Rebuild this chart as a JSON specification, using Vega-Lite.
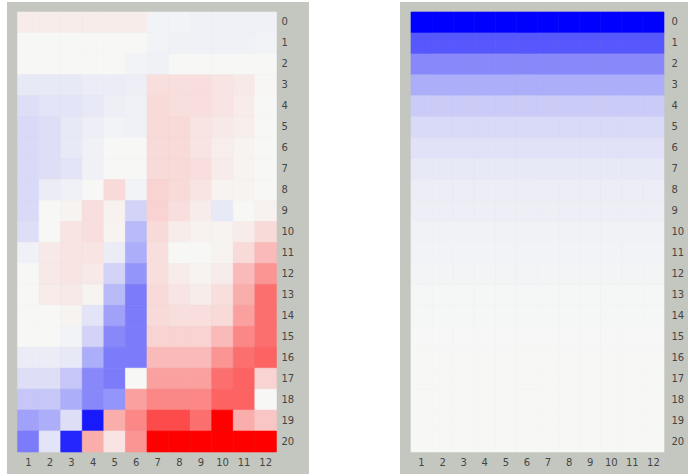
{
  "$schema": "https://vega.github.io/schema/vega-lite/v6.json",
  "padding": {"left": 7, "top": 2, "right": 0, "bottom": 0},
  "background": "#ffffff",
  "spacing": 91,
  "config": {
    "view": {"fill": "#c4c7c0", "stroke": null},
    "axis": {"domain": false, "ticks": false, "tickSize": 0, "title": null, "labelFont": "DejaVu Sans", "labelFontSize": 10, "labelColor": "#454545", "labelAngle": 0, "grid": false}
  },
  "datasets": {
    "left": [
{"r":0,"c":1,"v":0.05},{"r":0,"c":2,"v":0.05},{"r":0,"c":3,"v":0.05},{"r":0,"c":4,"v":0.05},{"r":0,"c":5,"v":0.05},{"r":0,"c":6,"v":0.05},{"r":0,"c":7,"v":-0.02},{"r":0,"c":8,"v":-0.02},{"r":0,"c":9,"v":-0.03},{"r":0,"c":10,"v":-0.03},{"r":0,"c":11,"v":-0.03},{"r":0,"c":12,"v":-0.03},
{"r":1,"c":1,"v":0},{"r":1,"c":2,"v":0},{"r":1,"c":3,"v":0},{"r":1,"c":4,"v":0},{"r":1,"c":5,"v":0},{"r":1,"c":6,"v":0},{"r":1,"c":7,"v":-0.02},{"r":1,"c":8,"v":-0.03},{"r":1,"c":9,"v":-0.03},{"r":1,"c":10,"v":-0.03},{"r":1,"c":11,"v":-0.03},{"r":1,"c":12,"v":-0.02},
{"r":2,"c":1,"v":0},{"r":2,"c":2,"v":0},{"r":2,"c":3,"v":0},{"r":2,"c":4,"v":0},{"r":2,"c":5,"v":0},{"r":2,"c":6,"v":-0.02},{"r":2,"c":7,"v":-0.03},{"r":2,"c":8,"v":0},{"r":2,"c":9,"v":0},{"r":2,"c":10,"v":0},{"r":2,"c":11,"v":0},{"r":2,"c":12,"v":0},
{"r":3,"c":1,"v":-0.06},{"r":3,"c":2,"v":-0.06},{"r":3,"c":3,"v":-0.06},{"r":3,"c":4,"v":-0.05},{"r":3,"c":5,"v":-0.05},{"r":3,"c":6,"v":-0.04},{"r":3,"c":7,"v":0.1},{"r":3,"c":8,"v":0.1},{"r":3,"c":9,"v":0.1},{"r":3,"c":10,"v":0.08},{"r":3,"c":11,"v":0.06},{"r":3,"c":12,"v":0.01},
{"r":4,"c":1,"v":-0.1},{"r":4,"c":2,"v":-0.08},{"r":4,"c":3,"v":-0.08},{"r":4,"c":4,"v":-0.06},{"r":4,"c":5,"v":-0.04},{"r":4,"c":6,"v":-0.03},{"r":4,"c":7,"v":0.12},{"r":4,"c":8,"v":0.1},{"r":4,"c":9,"v":0.1},{"r":4,"c":10,"v":0.08},{"r":4,"c":11,"v":0.05},{"r":4,"c":12,"v":0},
{"r":5,"c":1,"v":-0.12},{"r":5,"c":2,"v":-0.1},{"r":5,"c":3,"v":-0.06},{"r":5,"c":4,"v":-0.04},{"r":5,"c":5,"v":-0.02},{"r":5,"c":6,"v":-0.03},{"r":5,"c":7,"v":0.12},{"r":5,"c":8,"v":0.12},{"r":5,"c":9,"v":0.08},{"r":5,"c":10,"v":0.06},{"r":5,"c":11,"v":0.04},{"r":5,"c":12,"v":0},
{"r":6,"c":1,"v":-0.12},{"r":6,"c":2,"v":-0.1},{"r":6,"c":3,"v":-0.06},{"r":6,"c":4,"v":-0.03},{"r":6,"c":5,"v":0},{"r":6,"c":6,"v":0},{"r":6,"c":7,"v":0.12},{"r":6,"c":8,"v":0.12},{"r":6,"c":9,"v":0.08},{"r":6,"c":10,"v":0.04},{"r":6,"c":11,"v":0.02},{"r":6,"c":12,"v":0},
{"r":7,"c":1,"v":-0.12},{"r":7,"c":2,"v":-0.1},{"r":7,"c":3,"v":-0.08},{"r":7,"c":4,"v":-0.03},{"r":7,"c":5,"v":0},{"r":7,"c":6,"v":0},{"r":7,"c":7,"v":0.12},{"r":7,"c":8,"v":0.12},{"r":7,"c":9,"v":0.1},{"r":7,"c":10,"v":0.05},{"r":7,"c":11,"v":0.02},{"r":7,"c":12,"v":0},
{"r":8,"c":1,"v":-0.12},{"r":8,"c":2,"v":-0.05},{"r":8,"c":3,"v":-0.03},{"r":8,"c":4,"v":0},{"r":8,"c":5,"v":0.12},{"r":8,"c":6,"v":-0.02},{"r":8,"c":7,"v":0.15},{"r":8,"c":8,"v":0.12},{"r":8,"c":9,"v":0.08},{"r":8,"c":10,"v":0.02},{"r":8,"c":11,"v":0.02},{"r":8,"c":12,"v":0},
{"r":9,"c":1,"v":-0.12},{"r":9,"c":2,"v":0},{"r":9,"c":3,"v":0.02},{"r":9,"c":4,"v":0.1},{"r":9,"c":5,"v":0.03},{"r":9,"c":6,"v":-0.15},{"r":9,"c":7,"v":0.15},{"r":9,"c":8,"v":0.1},{"r":9,"c":9,"v":0.05},{"r":9,"c":10,"v":-0.06},{"r":9,"c":11,"v":0},{"r":9,"c":12,"v":0.03},
{"r":10,"c":1,"v":-0.1},{"r":10,"c":2,"v":0},{"r":10,"c":3,"v":0.08},{"r":10,"c":4,"v":0.1},{"r":10,"c":5,"v":0.02},{"r":10,"c":6,"v":-0.25},{"r":10,"c":7,"v":0.12},{"r":10,"c":8,"v":0.05},{"r":10,"c":9,"v":0.03},{"r":10,"c":10,"v":0.02},{"r":10,"c":11,"v":0.05},{"r":10,"c":12,"v":0.12},
{"r":11,"c":1,"v":-0.03},{"r":11,"c":2,"v":0.06},{"r":11,"c":3,"v":0.08},{"r":11,"c":4,"v":0.08},{"r":11,"c":5,"v":-0.05},{"r":11,"c":6,"v":-0.3},{"r":11,"c":7,"v":0.1},{"r":11,"c":8,"v":0},{"r":11,"c":9,"v":0},{"r":11,"c":10,"v":0.02},{"r":11,"c":11,"v":0.12},{"r":11,"c":12,"v":0.25},
{"r":12,"c":1,"v":0},{"r":12,"c":2,"v":0.06},{"r":12,"c":3,"v":0.08},{"r":12,"c":4,"v":0.06},{"r":12,"c":5,"v":-0.15},{"r":12,"c":6,"v":-0.4},{"r":12,"c":7,"v":0.1},{"r":12,"c":8,"v":0.05},{"r":12,"c":9,"v":0.02},{"r":12,"c":10,"v":0.05},{"r":12,"c":11,"v":0.25},{"r":12,"c":12,"v":0.4},
{"r":13,"c":1,"v":0},{"r":13,"c":2,"v":0.05},{"r":13,"c":3,"v":0.06},{"r":13,"c":4,"v":0.02},{"r":13,"c":5,"v":-0.25},{"r":13,"c":6,"v":-0.5},{"r":13,"c":7,"v":0.12},{"r":13,"c":8,"v":0.08},{"r":13,"c":9,"v":0.05},{"r":13,"c":10,"v":0.1},{"r":13,"c":11,"v":0.3},{"r":13,"c":12,"v":0.55},
{"r":14,"c":1,"v":0},{"r":14,"c":2,"v":0},{"r":14,"c":3,"v":0.02},{"r":14,"c":4,"v":-0.08},{"r":14,"c":5,"v":-0.35},{"r":14,"c":6,"v":-0.5},{"r":14,"c":7,"v":0.12},{"r":14,"c":8,"v":0.1},{"r":14,"c":9,"v":0.1},{"r":14,"c":10,"v":0.12},{"r":14,"c":11,"v":0.35},{"r":14,"c":12,"v":0.55},
{"r":15,"c":1,"v":0},{"r":15,"c":2,"v":0},{"r":15,"c":3,"v":-0.02},{"r":15,"c":4,"v":-0.15},{"r":15,"c":5,"v":-0.45},{"r":15,"c":6,"v":-0.5},{"r":15,"c":7,"v":0.15},{"r":15,"c":8,"v":0.15},{"r":15,"c":9,"v":0.15},{"r":15,"c":10,"v":0.25},{"r":15,"c":11,"v":0.45},{"r":15,"c":12,"v":0.55},
{"r":16,"c":1,"v":-0.05},{"r":16,"c":2,"v":-0.05},{"r":16,"c":3,"v":-0.06},{"r":16,"c":4,"v":-0.3},{"r":16,"c":5,"v":-0.5},{"r":16,"c":6,"v":-0.5},{"r":16,"c":7,"v":0.25},{"r":16,"c":8,"v":0.25},{"r":16,"c":9,"v":0.25},{"r":16,"c":10,"v":0.4},{"r":16,"c":11,"v":0.55},{"r":16,"c":12,"v":0.6},
{"r":17,"c":1,"v":-0.1},{"r":17,"c":2,"v":-0.1},{"r":17,"c":3,"v":-0.2},{"r":17,"c":4,"v":-0.45},{"r":17,"c":5,"v":-0.5},{"r":17,"c":6,"v":0},{"r":17,"c":7,"v":0.35},{"r":17,"c":8,"v":0.35},{"r":17,"c":9,"v":0.35},{"r":17,"c":10,"v":0.55},{"r":17,"c":11,"v":0.6},{"r":17,"c":12,"v":0.15},
{"r":18,"c":1,"v":-0.2},{"r":18,"c":2,"v":-0.2},{"r":18,"c":3,"v":-0.3},{"r":18,"c":4,"v":-0.45},{"r":18,"c":5,"v":-0.4},{"r":18,"c":6,"v":0.35},{"r":18,"c":7,"v":0.45},{"r":18,"c":8,"v":0.45},{"r":18,"c":9,"v":0.45},{"r":18,"c":10,"v":0.6},{"r":18,"c":11,"v":0.6},{"r":18,"c":12,"v":0},
{"r":19,"c":1,"v":-0.35},{"r":19,"c":2,"v":-0.3},{"r":19,"c":3,"v":-0.1},{"r":19,"c":4,"v":-0.9},{"r":19,"c":5,"v":0.3},{"r":19,"c":6,"v":0.45},{"r":19,"c":7,"v":0.7},{"r":19,"c":8,"v":0.7},{"r":19,"c":9,"v":0.55},{"r":19,"c":10,"v":1},{"r":19,"c":11,"v":0.3},{"r":19,"c":12,"v":0.2},
{"r":20,"c":1,"v":-0.5},{"r":20,"c":2,"v":-0.08},{"r":20,"c":3,"v":-0.85},{"r":20,"c":4,"v":0.3},{"r":20,"c":5,"v":0.08},{"r":20,"c":6,"v":0.4},{"r":20,"c":7,"v":1},{"r":20,"c":8,"v":1},{"r":20,"c":9,"v":1},{"r":20,"c":10,"v":1},{"r":20,"c":11,"v":1},{"r":20,"c":12,"v":1}
    ],
    "right": [
{"r":0,"c":1,"v":-1},{"r":0,"c":2,"v":-1},{"r":0,"c":3,"v":-1},{"r":0,"c":4,"v":-1},{"r":0,"c":5,"v":-1},{"r":0,"c":6,"v":-1},{"r":0,"c":7,"v":-1},{"r":0,"c":8,"v":-1},{"r":0,"c":9,"v":-1},{"r":0,"c":10,"v":-1},{"r":0,"c":11,"v":-1},{"r":0,"c":12,"v":-1},
{"r":1,"c":1,"v":-0.65},{"r":1,"c":2,"v":-0.65},{"r":1,"c":3,"v":-0.65},{"r":1,"c":4,"v":-0.65},{"r":1,"c":5,"v":-0.65},{"r":1,"c":6,"v":-0.65},{"r":1,"c":7,"v":-0.65},{"r":1,"c":8,"v":-0.65},{"r":1,"c":9,"v":-0.65},{"r":1,"c":10,"v":-0.65},{"r":1,"c":11,"v":-0.65},{"r":1,"c":12,"v":-0.65},
{"r":2,"c":1,"v":-0.45},{"r":2,"c":2,"v":-0.45},{"r":2,"c":3,"v":-0.45},{"r":2,"c":4,"v":-0.45},{"r":2,"c":5,"v":-0.45},{"r":2,"c":6,"v":-0.45},{"r":2,"c":7,"v":-0.45},{"r":2,"c":8,"v":-0.45},{"r":2,"c":9,"v":-0.45},{"r":2,"c":10,"v":-0.45},{"r":2,"c":11,"v":-0.45},{"r":2,"c":12,"v":-0.45},
{"r":3,"c":1,"v":-0.3},{"r":3,"c":2,"v":-0.3},{"r":3,"c":3,"v":-0.3},{"r":3,"c":4,"v":-0.3},{"r":3,"c":5,"v":-0.3},{"r":3,"c":6,"v":-0.3},{"r":3,"c":7,"v":-0.3},{"r":3,"c":8,"v":-0.3},{"r":3,"c":9,"v":-0.3},{"r":3,"c":10,"v":-0.3},{"r":3,"c":11,"v":-0.3},{"r":3,"c":12,"v":-0.3},
{"r":4,"c":1,"v":-0.18},{"r":4,"c":2,"v":-0.18},{"r":4,"c":3,"v":-0.18},{"r":4,"c":4,"v":-0.18},{"r":4,"c":5,"v":-0.18},{"r":4,"c":6,"v":-0.18},{"r":4,"c":7,"v":-0.18},{"r":4,"c":8,"v":-0.18},{"r":4,"c":9,"v":-0.18},{"r":4,"c":10,"v":-0.18},{"r":4,"c":11,"v":-0.18},{"r":4,"c":12,"v":-0.18},
{"r":5,"c":1,"v":-0.12},{"r":5,"c":2,"v":-0.12},{"r":5,"c":3,"v":-0.12},{"r":5,"c":4,"v":-0.12},{"r":5,"c":5,"v":-0.12},{"r":5,"c":6,"v":-0.12},{"r":5,"c":7,"v":-0.12},{"r":5,"c":8,"v":-0.12},{"r":5,"c":9,"v":-0.12},{"r":5,"c":10,"v":-0.12},{"r":5,"c":11,"v":-0.12},{"r":5,"c":12,"v":-0.12},
{"r":6,"c":1,"v":-0.09},{"r":6,"c":2,"v":-0.09},{"r":6,"c":3,"v":-0.09},{"r":6,"c":4,"v":-0.09},{"r":6,"c":5,"v":-0.09},{"r":6,"c":6,"v":-0.09},{"r":6,"c":7,"v":-0.09},{"r":6,"c":8,"v":-0.09},{"r":6,"c":9,"v":-0.09},{"r":6,"c":10,"v":-0.09},{"r":6,"c":11,"v":-0.09},{"r":6,"c":12,"v":-0.09},
{"r":7,"c":1,"v":-0.06},{"r":7,"c":2,"v":-0.06},{"r":7,"c":3,"v":-0.06},{"r":7,"c":4,"v":-0.06},{"r":7,"c":5,"v":-0.06},{"r":7,"c":6,"v":-0.06},{"r":7,"c":7,"v":-0.06},{"r":7,"c":8,"v":-0.06},{"r":7,"c":9,"v":-0.06},{"r":7,"c":10,"v":-0.06},{"r":7,"c":11,"v":-0.06},{"r":7,"c":12,"v":-0.06},
{"r":8,"c":1,"v":-0.045},{"r":8,"c":2,"v":-0.045},{"r":8,"c":3,"v":-0.045},{"r":8,"c":4,"v":-0.045},{"r":8,"c":5,"v":-0.045},{"r":8,"c":6,"v":-0.045},{"r":8,"c":7,"v":-0.045},{"r":8,"c":8,"v":-0.045},{"r":8,"c":9,"v":-0.045},{"r":8,"c":10,"v":-0.045},{"r":8,"c":11,"v":-0.045},{"r":8,"c":12,"v":-0.045},
{"r":9,"c":1,"v":-0.035},{"r":9,"c":2,"v":-0.035},{"r":9,"c":3,"v":-0.035},{"r":9,"c":4,"v":-0.035},{"r":9,"c":5,"v":-0.035},{"r":9,"c":6,"v":-0.035},{"r":9,"c":7,"v":-0.035},{"r":9,"c":8,"v":-0.035},{"r":9,"c":9,"v":-0.035},{"r":9,"c":10,"v":-0.035},{"r":9,"c":11,"v":-0.035},{"r":9,"c":12,"v":-0.035},
{"r":10,"c":1,"v":-0.025},{"r":10,"c":2,"v":-0.025},{"r":10,"c":3,"v":-0.025},{"r":10,"c":4,"v":-0.025},{"r":10,"c":5,"v":-0.025},{"r":10,"c":6,"v":-0.025},{"r":10,"c":7,"v":-0.025},{"r":10,"c":8,"v":-0.025},{"r":10,"c":9,"v":-0.025},{"r":10,"c":10,"v":-0.025},{"r":10,"c":11,"v":-0.025},{"r":10,"c":12,"v":-0.025},
{"r":11,"c":1,"v":-0.02},{"r":11,"c":2,"v":-0.02},{"r":11,"c":3,"v":-0.02},{"r":11,"c":4,"v":-0.02},{"r":11,"c":5,"v":-0.02},{"r":11,"c":6,"v":-0.02},{"r":11,"c":7,"v":-0.02},{"r":11,"c":8,"v":-0.02},{"r":11,"c":9,"v":-0.02},{"r":11,"c":10,"v":-0.02},{"r":11,"c":11,"v":-0.02},{"r":11,"c":12,"v":-0.02},
{"r":12,"c":1,"v":-0.015},{"r":12,"c":2,"v":-0.015},{"r":12,"c":3,"v":-0.015},{"r":12,"c":4,"v":-0.015},{"r":12,"c":5,"v":-0.015},{"r":12,"c":6,"v":-0.015},{"r":12,"c":7,"v":-0.015},{"r":12,"c":8,"v":-0.015},{"r":12,"c":9,"v":-0.015},{"r":12,"c":10,"v":-0.015},{"r":12,"c":11,"v":-0.015},{"r":12,"c":12,"v":-0.015},
{"r":13,"c":1,"v":-0.01},{"r":13,"c":2,"v":-0.01},{"r":13,"c":3,"v":-0.01},{"r":13,"c":4,"v":-0.01},{"r":13,"c":5,"v":-0.01},{"r":13,"c":6,"v":-0.01},{"r":13,"c":7,"v":-0.01},{"r":13,"c":8,"v":-0.01},{"r":13,"c":9,"v":-0.01},{"r":13,"c":10,"v":-0.01},{"r":13,"c":11,"v":-0.01},{"r":13,"c":12,"v":-0.01},
{"r":14,"c":1,"v":-0.01},{"r":14,"c":2,"v":-0.01},{"r":14,"c":3,"v":-0.01},{"r":14,"c":4,"v":-0.01},{"r":14,"c":5,"v":-0.01},{"r":14,"c":6,"v":-0.01},{"r":14,"c":7,"v":-0.01},{"r":14,"c":8,"v":-0.01},{"r":14,"c":9,"v":-0.01},{"r":14,"c":10,"v":-0.01},{"r":14,"c":11,"v":-0.01},{"r":14,"c":12,"v":-0.01},
{"r":15,"c":1,"v":-0.005},{"r":15,"c":2,"v":-0.005},{"r":15,"c":3,"v":-0.005},{"r":15,"c":4,"v":-0.005},{"r":15,"c":5,"v":-0.005},{"r":15,"c":6,"v":-0.005},{"r":15,"c":7,"v":-0.005},{"r":15,"c":8,"v":-0.005},{"r":15,"c":9,"v":-0.005},{"r":15,"c":10,"v":-0.005},{"r":15,"c":11,"v":-0.005},{"r":15,"c":12,"v":-0.005},
{"r":16,"c":1,"v":0},{"r":16,"c":2,"v":0},{"r":16,"c":3,"v":0},{"r":16,"c":4,"v":0},{"r":16,"c":5,"v":0},{"r":16,"c":6,"v":0},{"r":16,"c":7,"v":0},{"r":16,"c":8,"v":0},{"r":16,"c":9,"v":0},{"r":16,"c":10,"v":0},{"r":16,"c":11,"v":0},{"r":16,"c":12,"v":0},
{"r":17,"c":1,"v":0},{"r":17,"c":2,"v":0},{"r":17,"c":3,"v":0},{"r":17,"c":4,"v":0},{"r":17,"c":5,"v":0},{"r":17,"c":6,"v":0},{"r":17,"c":7,"v":0},{"r":17,"c":8,"v":0},{"r":17,"c":9,"v":0},{"r":17,"c":10,"v":0},{"r":17,"c":11,"v":0},{"r":17,"c":12,"v":0},
{"r":18,"c":1,"v":0},{"r":18,"c":2,"v":0},{"r":18,"c":3,"v":0},{"r":18,"c":4,"v":0},{"r":18,"c":5,"v":0},{"r":18,"c":6,"v":0},{"r":18,"c":7,"v":0},{"r":18,"c":8,"v":0},{"r":18,"c":9,"v":0},{"r":18,"c":10,"v":0},{"r":18,"c":11,"v":0},{"r":18,"c":12,"v":0},
{"r":19,"c":1,"v":0},{"r":19,"c":2,"v":0},{"r":19,"c":3,"v":0},{"r":19,"c":4,"v":0},{"r":19,"c":5,"v":0},{"r":19,"c":6,"v":0},{"r":19,"c":7,"v":0},{"r":19,"c":8,"v":0},{"r":19,"c":9,"v":0},{"r":19,"c":10,"v":0},{"r":19,"c":11,"v":0},{"r":19,"c":12,"v":0},
{"r":20,"c":1,"v":0},{"r":20,"c":2,"v":0},{"r":20,"c":3,"v":0},{"r":20,"c":4,"v":0},{"r":20,"c":5,"v":0},{"r":20,"c":6,"v":0},{"r":20,"c":7,"v":0},{"r":20,"c":8,"v":0},{"r":20,"c":9,"v":0},{"r":20,"c":10,"v":0},{"r":20,"c":11,"v":0},{"r":20,"c":12,"v":0}
    ]
  },
  "hconcat": [
    {
      "data": {"name": "left"},
      "width": 302,
      "height": 472,
      "mark": {"type": "rect", "strokeWidth": 0.6},
      "encoding": {
        "x": {"field": "c", "type": "ordinal", "scale": {"paddingInner": 0, "paddingOuter": 1.162, "align": 0.245}, "axis": {"orient": "bottom", "labelBaseline": "middle", "labelPadding": -12}},
        "y": {"field": "r", "type": "ordinal", "scale": {"paddingInner": 0, "paddingOuter": 0.764, "align": 0.3125}, "axis": {"orient": "right", "labelAlign": "left", "labelBaseline": "middle", "labelPadding": -28}},
        "color": {"field": "v", "type": "quantitative", "scale": {"domain": [-1, 0, 1], "range": ["#0000ff", "#f7f8f6", "#ff0000"], "interpolate": "rgb"}, "legend": null},
        "stroke": {"field": "v", "type": "quantitative", "scale": {"domain": [-1, 0, 1], "range": ["#0000ff", "#f7f8f6", "#ff0000"], "interpolate": "rgb"}, "legend": null}
      }
    },
    {
      "data": {"name": "right"},
      "width": 288,
      "height": 472,
      "mark": {"type": "rect", "strokeWidth": 0.6},
      "encoding": {
        "x": {"field": "c", "type": "ordinal", "scale": {"paddingInner": 0, "paddingOuter": 0.83, "align": 0.314}, "axis": {"orient": "bottom", "labelBaseline": "middle", "labelPadding": -12}},
        "y": {"field": "r", "type": "ordinal", "scale": {"paddingInner": 0, "paddingOuter": 0.764, "align": 0.3125}, "axis": {"orient": "right", "labelAlign": "left", "labelBaseline": "middle", "labelPadding": -17}},
        "color": {"field": "v", "type": "quantitative", "scale": {"domain": [-1, 0, 1], "range": ["#0000ff", "#f7f8f6", "#ff0000"], "interpolate": "rgb"}, "legend": null},
        "stroke": {"field": "v", "type": "quantitative", "scale": {"domain": [-1, 0, 1], "range": ["#0000ff", "#f7f8f6", "#ff0000"], "interpolate": "rgb"}, "legend": null}
      }
    }
  ],
  "resolve": {"scale": {"x": "independent", "y": "independent", "color": "independent", "stroke": "independent"}}
}
